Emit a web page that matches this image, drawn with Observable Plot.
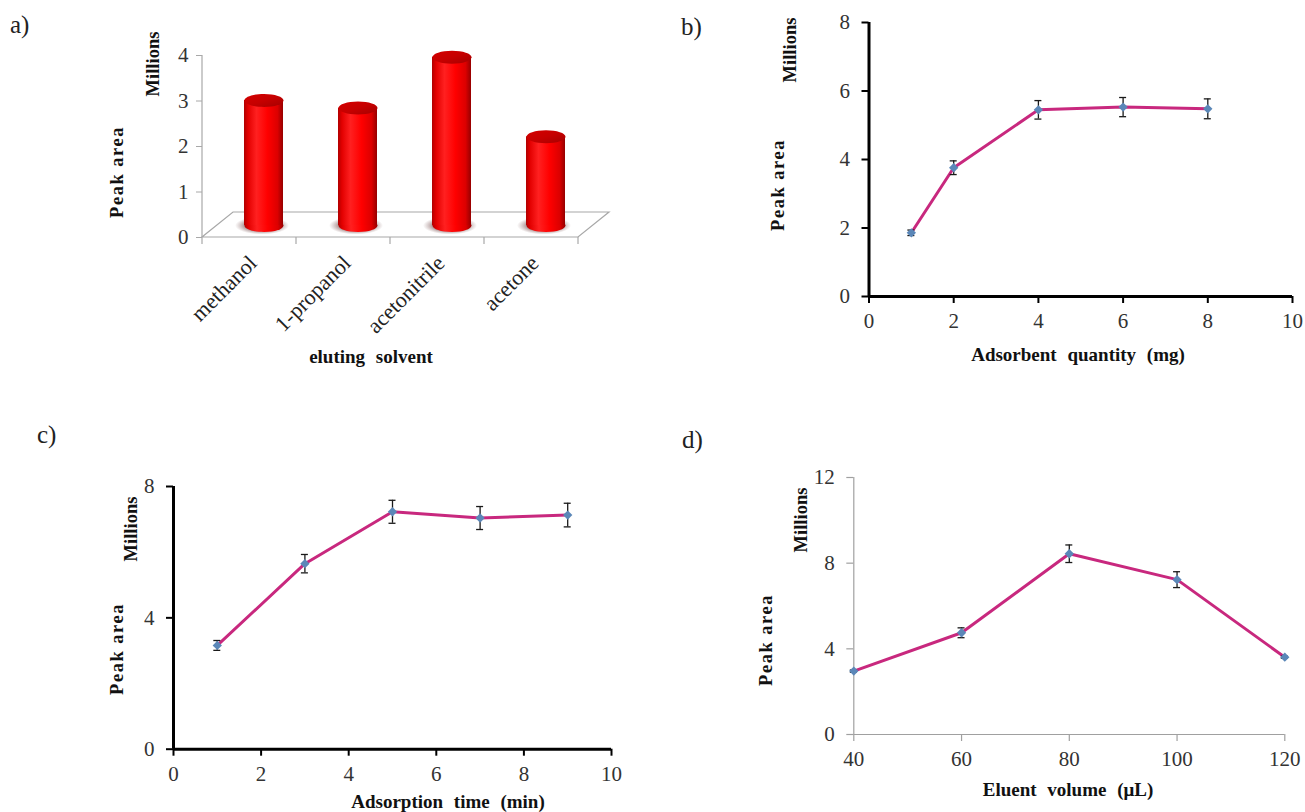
<!DOCTYPE html>
<html><head><meta charset="utf-8">
<script src="https://cdn.jsdelivr.net/npm/d3@7"></script>
<script src="https://cdn.jsdelivr.net/npm/@observablehq/plot@0.6"></script>
<style>
html,body{margin:0;padding:0;background:#fff;}
body{width:1305px;height:812px;position:relative;overflow:hidden;font-family:"Liberation Serif","Times New Roman",serif;color:#222;}
.panel{position:absolute;}
.panel svg{overflow:visible;background:transparent;}
.letter{position:absolute;font-size:25px;line-height:1;color:#222;}
.ttl{position:absolute;font-weight:bold;font-size:19px;word-spacing:6px;white-space:nowrap;transform:translate(-50%,-50%);color:#111;}
.rot{position:absolute;font-weight:bold;font-size:18.5px;white-space:nowrap;transform:translate(-50%,-50%) rotate(-90deg);color:#111;}
.sp{letter-spacing:1.5px;}
</style></head><body>
<script>
// ---------- data ----------
const solvents = ["methanol", "1-propanol", "acetonitrile", "acetone"];
const solventArea = [2.75, 2.58, 3.7, 1.95];
const solventTicks = [0, 1, 2, 3, 4];

const adsorbentMg = [1, 2, 4, 6, 8];
const adsorbentArea = [1.86, 3.76, 5.45, 5.53, 5.48];
const adsorbentErr = [0.08, 0.2, 0.27, 0.28, 0.29];
const adsorbentXTicks = [0, 2, 4, 6, 8, 10];
const adsorbentYTicks = [0, 2, 4, 6, 8];

const timeMin = [1, 3, 5, 7, 9];
const timeArea = [3.16, 5.65, 7.23, 7.04, 7.13];
const timeErr = [0.15, 0.28, 0.35, 0.35, 0.36];
const timeXTicks = [0, 2, 4, 6, 8, 10];
const timeYTicks = [0, 4, 8];

const volumeUL = [40, 60, 80, 100, 120];
const volumeArea = [2.96, 4.75, 8.44, 7.23, 3.61];
const volumeErr = [0.05, 0.23, 0.41, 0.37, 0.05];
const volumeXTicks = [40, 60, 80, 100, 120];
const volumeYTicks = [0, 4, 8, 12];

// ---------- helpers ----------
const FONT = "Liberation Serif, Times New Roman, serif";
const TICK_FONT = 21;
function place(node, left, top) {
  const d = document.createElement("div");
  d.className = "panel";
  d.style.left = left + "px";
  d.style.top = top + "px";
  d.appendChild(node);
  document.body.appendChild(d);
}
function label(text, cls, x, y, extra) {
  const d = document.createElement("div");
  d.className = cls + (extra ? " " + extra : "");
  d.textContent = text;
  d.style.left = x + "px";
  d.style.top = y + "px";
  document.body.appendChild(d);
}
function ellipseSymbol(rx, ry) {
  return {
    draw(ctx) {
      const k = 0.5523;
      ctx.moveTo(-rx, 0);
      ctx.bezierCurveTo(-rx, -ry * k, -rx * k, -ry, 0, -ry);
      ctx.bezierCurveTo(rx * k, -ry, rx, -ry * k, rx, 0);
      ctx.bezierCurveTo(rx, ry * k, rx * k, ry, 0, ry);
      ctx.bezierCurveTo(-rx * k, ry, -rx, ry * k, -rx, 0);
      ctx.closePath();
    }
  };
}

// ---------- panel a: 3D cylinder bars ----------
const dataA = solvents.map((s, i) => ({s, v: solventArea[i]}));
const DEPTH_X = 31, DEPTH_Y = -25;
const defsMark = () => {
  const defs = d3.create("svg:defs");
  const body = defs.append("linearGradient").attr("id", "cylBody").attr("x1", 0).attr("x2", 1).attr("y1", 0).attr("y2", 0);
  [[0, "#b00000"], [0.1, "#e20000"], [0.32, "#ff2020"], [0.6, "#ff0000"], [0.86, "#dc0000"], [1, "#960000"]]
    .forEach(([o, c]) => body.append("stop").attr("offset", o).attr("stop-color", c));
  const top = defs.append("linearGradient").attr("id", "cylTop").attr("x1", 0).attr("x2", 1).attr("y1", 0).attr("y2", 1);
  [[0, "#d40000"], [0.5, "#c60000"], [1, "#a40000"]]
    .forEach(([o, c]) => top.append("stop").attr("offset", o).attr("stop-color", c));
  const sh = defs.append("radialGradient").attr("id", "cylShadow");
  [[0, "rgba(70,20,20,0.85)"], [0.6, "rgba(90,40,40,0.55)"], [1, "rgba(120,80,80,0)"]]
    .forEach(([o, c]) => sh.append("stop").attr("offset", o).attr("stop-color", c));
  return defs.node();
};
const floorMark = (index, scales, values, dims) => {
  const {width, height, marginLeft, marginRight, marginBottom, marginTop} = dims;
  const yS = scales && scales.y ? scales.y : null;
  const x0 = marginLeft, x1 = width - marginRight;
  const y0 = yS ? yS(0) : height - marginBottom;
  const yTop = yS ? yS(d3.max(solventTicks)) : marginTop;
  const g = d3.create("svg:g").attr("fill", "none").attr("stroke", "#a8a8a8").attr("stroke-width", 1.2);
  g.append("path").attr("d", `M${x0},${y0}L${x1},${y0}L${x1 + DEPTH_X},${y0 + DEPTH_Y}L${x0 + DEPTH_X},${y0 + DEPTH_Y}Z`);
  g.append("path").attr("d", `M${x0},${yTop}V${y0}`);
  const step = (x1 - x0) / solvents.length;
  for (let k = 0; k <= solvents.length; k++) {
    g.append("path").attr("d", `M${x0 + k * step},${y0}v7`);
  }
  return g.node();
};
const svgA = Plot.plot({
  width: 540, height: 400,
  marginLeft: 102, marginRight: 62, marginTop: 55, marginBottom: 163,
  style: {fontFamily: FONT, fontSize: TICK_FONT + "px", background: "transparent", overflow: "visible"},
  x: {domain: solvents, paddingInner: 0.585, paddingOuter: 0.2925, axis: null},
  y: {domain: [0, 4], axis: null},
  marks: [
    defsMark,
    floorMark,
    Plot.axisY({ticks: solventTicks, tickSize: 6, tickPadding: 8, stroke: "#a8a8a8", fill: "#333", fontSize: TICK_FONT, label: null, tickFormat: d => String(d)}),
    Plot.dot(dataA, {x: "s", y: () => 0, symbol: ellipseSymbol(27, 9), fill: "url(#cylShadow)", dx: 13, dy: -12}),
    Plot.dot(dataA, {x: "s", y: () => 0, symbol: ellipseSymbol(19.5, 6.5), fill: "url(#cylBody)", dx: 15, dy: -12}),
    Plot.barY(dataA, {x: "s", y: "v", fill: "url(#cylBody)", dx: 15, dy: -12}),
    Plot.dot(dataA, {x: "s", y: "v", symbol: ellipseSymbol(19.5, 6.5), fill: "url(#cylTop)", dx: 15, dy: -12}),
    Plot.text(dataA, {x: "s", y: () => 0, text: "s", rotate: -45, textAnchor: "end", dx: 4, dy: 22, fontSize: 22, fill: "#222"})
  ]
});
place(svgA, 100, 0);

// ---------- line panels ----------
function linePanel(cfg) {
  const data = cfg.xs.map((x, i) => ({x, y: cfg.ys[i], lo: cfg.ys[i] - cfg.es[i], hi: cfg.ys[i] + cfg.es[i]}));
  const svg = Plot.plot({
    width: cfg.width, height: cfg.height,
    marginLeft: cfg.ml, marginRight: cfg.mr, marginTop: cfg.mt, marginBottom: cfg.mb,
    style: {fontFamily: FONT, fontSize: TICK_FONT + "px", background: "transparent", overflow: "visible"},
    x: {domain: cfg.xDomain, axis: null},
    y: {domain: cfg.yDomain, axis: null},
    marks: [
      Plot.axisX({ticks: cfg.xTicks, tickSize: 7, tickPadding: cfg.xPad, stroke: cfg.tickColor, strokeWidth: cfg.tickWidth, fill: "#333", fontSize: TICK_FONT, label: null, tickFormat: d => String(d)}),
      Plot.axisY({ticks: cfg.yTicks, tickSize: 7, tickPadding: cfg.yPad, stroke: cfg.tickColor, strokeWidth: cfg.tickWidth, fill: "#333", fontSize: TICK_FONT, label: null, tickFormat: d => String(d)}),
      Plot.ruleX([cfg.xDomain[0]], {stroke: cfg.axisColor, strokeWidth: cfg.axisWidth}),
      Plot.ruleY([cfg.yDomain[0]], {stroke: cfg.axisColor, strokeWidth: cfg.axisWidth}),
      Plot.line(data, {x: "x", y: "y", stroke: "#c8287e", strokeWidth: 3, strokeLinejoin: "round"}),
      Plot.ruleX(data, {x: "x", y1: "lo", y2: "hi", stroke: "#1a1a1a", strokeWidth: 1.3}),
      Plot.ruleY(data, {y: "lo", x1: "x", x2: "x", insetLeft: -3.5, insetRight: -3.5, stroke: "#1a1a1a", strokeWidth: 1.3}),
      Plot.ruleY(data, {y: "hi", x1: "x", x2: "x", insetLeft: -3.5, insetRight: -3.5, stroke: "#1a1a1a", strokeWidth: 1.3}),
      Plot.dot(data, {x: "x", y: "y", symbol: "diamond2", r: 4.2, fill: "#5b87b8", stroke: "none"})
    ]
  });
  place(svg, cfg.left, cfg.top);
}

// b
linePanel({
  xs: adsorbentMg, ys: adsorbentArea, es: adsorbentErr,
  xDomain: [0, 10], xTicks: adsorbentXTicks, yDomain: [0, 8], yTicks: adsorbentYTicks,
  left: 780, top: 0, width: 525, height: 340, ml: 88.5, mr: 13, mt: 22, mb: 44,
  axisColor: "#000", axisWidth: 3, tickColor: "#000", tickWidth: 2, xPad: 10, yPad: 12
});
// c
linePanel({
  xs: timeMin, ys: timeArea, es: timeErr,
  xDomain: [0, 10], xTicks: timeXTicks, yDomain: [0, 8], yTicks: timeYTicks,
  left: 100, top: 420, width: 540, height: 392, ml: 73, mr: 29, mt: 66, mb: 63.3,
  axisColor: "#000", axisWidth: 3, tickColor: "#000", tickWidth: 2, xPad: 10, yPad: 12
});
// d
linePanel({
  xs: volumeUL, ys: volumeArea, es: volumeErr,
  xDomain: [40, 120], xTicks: volumeXTicks, yDomain: [0, 12], yTicks: volumeYTicks,
  left: 780, top: 420, width: 525, height: 392, ml: 73.3, mr: 20.7, mt: 57, mb: 78,
  axisColor: "#a0a0a0", axisWidth: 1.2, tickColor: "#a0a0a0", tickWidth: 1.2, xPad: 10, yPad: 12
});

// ---------- texts ----------
label("a)", "letter", 10, 12);
label("b)", "letter", 681, 14);
label("c)", "letter", 37, 422);
label("d)", "letter", 682, 427);

label("Millions", "rot", 153, 64);
label("Peak area", "rot", 117, 172, "sp");
label("eluting solvent", "ttl", 371, 357);

label("Millions", "rot", 790, 50);
label("Peak area", "rot", 778, 185, "sp");
label("Adsorbent quantity (mg)", "ttl", 1078, 355);

label("Millions", "rot", 131, 529);
label("Peak area", "rot", 117, 649, "sp");
label("Adsorption time (min)", "ttl", 448, 802);

label("Millions", "rot", 801, 520);
label("Peak area", "rot", 766, 640, "sp");
label("Eluent volume (μL)", "ttl", 1068, 790);
</script>
</body></html>
